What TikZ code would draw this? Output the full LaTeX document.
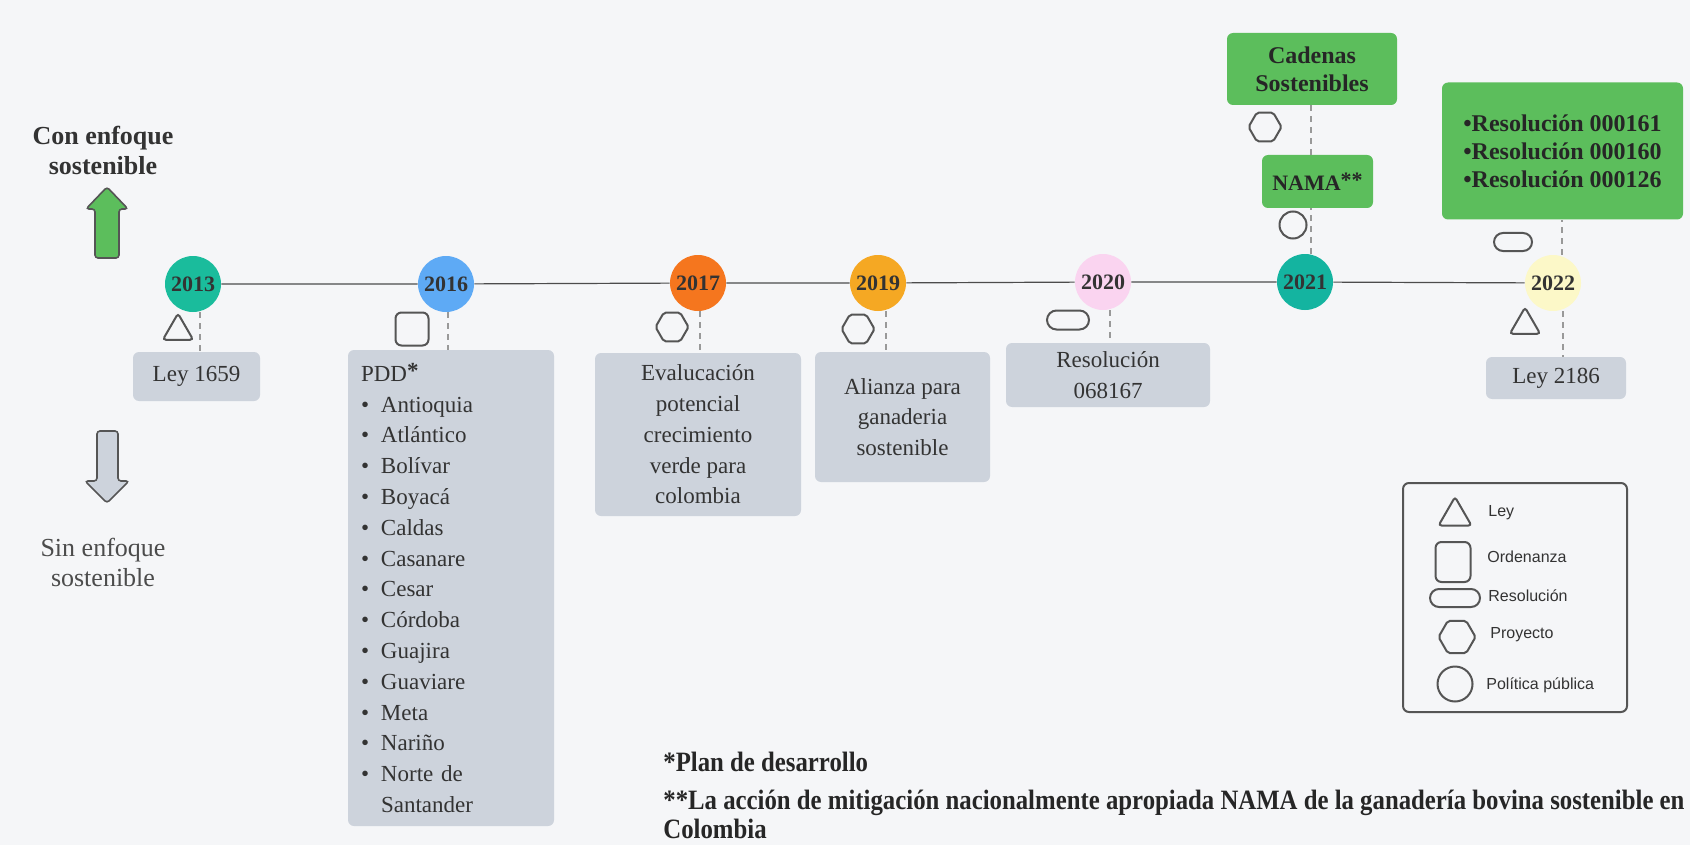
\documentclass[tikz,border=0pt]{standalone}
\usepackage{fontspec}
\setmainfont{Liberation Serif}
\newfontfamily\legendfont{Liberation Sans}
\newfontfamily\notefont[FakeStretch=0.885]{Liberation Serif}
\usetikzlibrary{shapes.geometric, shapes.misc, calc}
\definecolor{bgcol}{RGB}{245,246,248}
\definecolor{boxgray}{RGB}{205,211,220}
\definecolor{boxgreen}{RGB}{92,190,92}
\definecolor{txtdark}{RGB}{51,51,51}
\definecolor{icongray}{RGB}{85,85,85}
\definecolor{teal1}{RGB}{26,188,156}
\definecolor{blue1}{RGB}{94,170,245}
\definecolor{orange1}{RGB}{245,118,30}
\definecolor{orange2}{RGB}{245,168,35}
\definecolor{pink1}{RGB}{250,212,240}
\definecolor{teal2}{RGB}{20,180,160}
\definecolor{yellow1}{RGB}{252,248,200}
\newcommand{\bul}{\makebox[10pt][l]{\textbullet}}

\tikzset{
  year/.style={circle, minimum size=28pt, inner sep=0pt, font=\fontsize{11}{11}\selectfont\bfseries, text=txtdark},
  graybox/.style={fill=boxgray, rounded corners=3pt, align=center, text=txtdark, font=\fontsize{11.5}{15.4}\selectfont, inner sep=0pt},
  greenbox/.style={fill=boxgreen, rounded corners=3pt, align=center, text=black!85, font=\fontsize{12}{14}\selectfont\bfseries, inner sep=0pt},
  link/.style={draw=gray!80, line width=0.7pt, dash pattern=on 3pt off 2.5pt},
  icon/.style={draw=icongray, line width=1pt, inner sep=0pt},
  tri/.style={icon, regular polygon, regular polygon sides=3, minimum size=17.5pt, rounded corners=1.5pt},
  hexa/.style={icon, regular polygon, regular polygon sides=6, minimum size=16.5pt, rounded corners=1pt},
  squ/.style={icon, rectangle, minimum size=16.5pt, rounded corners=3pt},
  pill/.style={icon, rounded rectangle, minimum width=21pt, minimum height=9.5pt},
  ring/.style={icon, circle, minimum size=13.5pt},
  legtext/.style={anchor=west, font=\legendfont\fontsize{8}{8}\selectfont, text=txtdark, inner sep=0pt}
}

\begin{document}
\begin{tikzpicture}[x=0.5pt, y=-0.5pt]
  \fill[bgcol] (0,0) rectangle (1690,845);
  \useasboundingbox (0,0) rectangle (1690,845);

  % left side
  \node[font=\fontsize{13}{15}\selectfont\bfseries, text=txtdark, align=center] (con) at (103,150) {Con enfoque\\sostenible};
  \draw[fill=boxgreen, draw=icongray, line width=0.8pt, rounded corners=1.5pt]
    (107,187) -- (128,209) -- (119,209) -- (119,258) -- (95,258) -- (95,209) -- (86,209) -- cycle;
  \draw[fill=boxgray, draw=icongray, line width=0.8pt, rounded corners=1.5pt]
    (97,431) -- (118,431) -- (118,481) -- (129,481) -- (107,503) -- (85,481) -- (97,481) -- cycle;
  \node[font=\fontsize{13}{15}\selectfont, text=black!70, align=center] (sin) at (103,562) {Sin enfoque\\sostenible};

  % years
  \node[year, fill=teal1] (c2013) at (193,284) {2013};
  \node[year, fill=blue1] (c2016) at (446,284) {2016};
  \node[year, fill=orange1] (c2017) at (698,283) {2017};
  \node[year, fill=orange2] (c2019) at (878,283) {2019};
  \node[year, fill=pink1] (c2020) at (1103,282) {2020};
  \node[year, fill=teal2] (c2021) at (1305,282) {2021};
  \node[year, fill=yellow1] (c2022) at (1553,283) {2022};
  \draw[gray!60!black, line width=0.6pt] (c2013) -- (c2016) -- (c2017) -- (c2019) -- (c2020) -- (c2021) -- (c2022);

  % boxes below
  \node[graybox, minimum width=63.5pt, minimum height=24.5pt] (ley1659) at (196.5,376.5) {Ley 1659};
  \node[graybox, align=left, text width=90pt, inner xsep=6.5pt, minimum height=238pt] (pdd) at (451,588) {
    PDD\raisebox{1.5pt}{\textbf{*}}\\
    \bul Antioquia\\ \bul Atlántico\\ \bul Bolívar\\ \bul Boyacá\\ \bul Caldas\\
    \bul Casanare\\ \bul Cesar\\ \bul Córdoba\\ \bul Guajira\\ \bul Guaviare\\
    \bul Meta\\ \bul Nariño\\ \bul Norte de\\ \hspace*{10pt}Santander
  };
  \node[graybox, minimum width=103pt, minimum height=81.5pt] (evalua) at (698,434.5) {Evalucación\\potencial\\crecimiento\\verde para\\colombia};
  \node[graybox, minimum width=87.5pt, minimum height=65pt] (alianza) at (902.5,417) {Alianza para\\ganaderia\\sostenible};
  \node[graybox, minimum width=102pt, minimum height=32pt] (res068) at (1108,375) {Resolución\\068167};
  \node[graybox, minimum width=70pt, minimum height=21pt] (ley2186) at (1556,378) {Ley 2186};

  % boxes above
  \node[greenbox, minimum width=85pt, minimum height=36pt] (cadenas) at (1312,69) {Cadenas\\Sostenibles};
  \node[greenbox, minimum width=55.5pt, minimum height=26.5pt, font=\fontsize{11}{13}\selectfont\bfseries] (nama) at (1317.5,181.5) {NAMA\raisebox{1.5pt}{**}};
  \node[greenbox, minimum width=120.5pt, minimum height=68.5pt, align=left] (resols) at (1562.5,151) {
    \textbullet Resolución 000161\\ \textbullet Resolución 000160\\ \textbullet Resolución 000126};

  % dashed links
  \draw[link] ($(c2013.south)+(7,0)$) -- ($(c2013.south |- ley1659.north)+(7,0)$);
  \draw[link] ($(c2016.south)+(2,0)$) -- ($(c2016.south |- pdd.north)+(2,0)$);
  \draw[link] ($(c2017.south)+(2,0)$) -- ($(c2017.south |- evalua.north)+(2,0)$);
  \draw[link] ($(c2019.south)+(8,0)$) -- ($(c2019.south |- alianza.north)+(8,0)$);
  \draw[link] ($(c2020.south)+(7,0)$) -- ($(c2020.south |- res068.north)+(7,0)$);
  \draw[link] ($(c2021.north)+(6,0)$) -- ($(c2021.north |- nama.south)+(6,0)$);
  \draw[link] ($(c2021.north |- nama.north)+(6,0)$) -- ($(c2021.north |- cadenas.south)+(6,0)$);
  \draw[link] ($(c2022.north)+(9,0)$) -- ($(c2022.north |- resols.south)+(9,0)$);
  \draw[link] ($(c2022.south)+(10,0)$) -- ($(c2022.south |- ley2186.north)+(10,0)$);

  % type icons
  \node[tri] (i2013) at (178,331) {};
  \node[squ] (i2016) at (412,329) {};
  \node[hexa] (i2017) at (672,327) {};
  \node[hexa] (i2019) at (858,329) {};
  \node[pill] (i2020) at (1068,320) {};
  \node[hexa] (i2021a) at (1265,127) {};
  \node[ring] (i2021b) at (1293,225) {};
  \node[pill, minimum width=19pt, minimum height=9pt] (i2022a) at (1513,242) {};
  \node[tri] (i2022b) at (1525,325) {};

  % legend
  \node[draw=icongray, line width=1pt, rounded corners=3pt, minimum width=112pt, minimum height=114.5pt] (legend) at (1515,597.5) {};
  \node[tri, minimum size=19pt] (lgley) at (1455,516) {};
  \node[squ, minimum width=17.5pt, minimum height=20pt] (lgord) at (1453,562) {};
  \node[pill, minimum width=25pt, minimum height=9pt] (lgres) at (1455,598) {};
  \node[hexa, minimum size=18.5pt] (lgpro) at (1457,637) {};
  \node[ring, minimum size=17.5pt] (lgpol) at (1455,684) {};
  \node[legtext] at (1488,513) {Ley};
  \node[legtext] at (1487,557) {Ordenanza};
  \node[legtext] at (1488,596) {Resolución};
  \node[legtext] at (1490,635) {Proyecto};
  \node[legtext] at (1486,685) {Política pública};

  % notes
  \node[anchor=west, inner sep=0pt, font=\notefont\bfseries\fontsize{14}{15}\selectfont, text=black!85] (note1) at (663,762) {*Plan de desarrollo};
  \node[anchor=west, inner sep=0pt, align=left, font=\notefont\bfseries\fontsize{14}{14.5}\selectfont, text=black!85] (note2) at (663,814) {**La acción de mitigación nacionalmente apropiada NAMA de la ganadería bovina sostenible en\\Colombia};
\end{tikzpicture}
\end{document}
